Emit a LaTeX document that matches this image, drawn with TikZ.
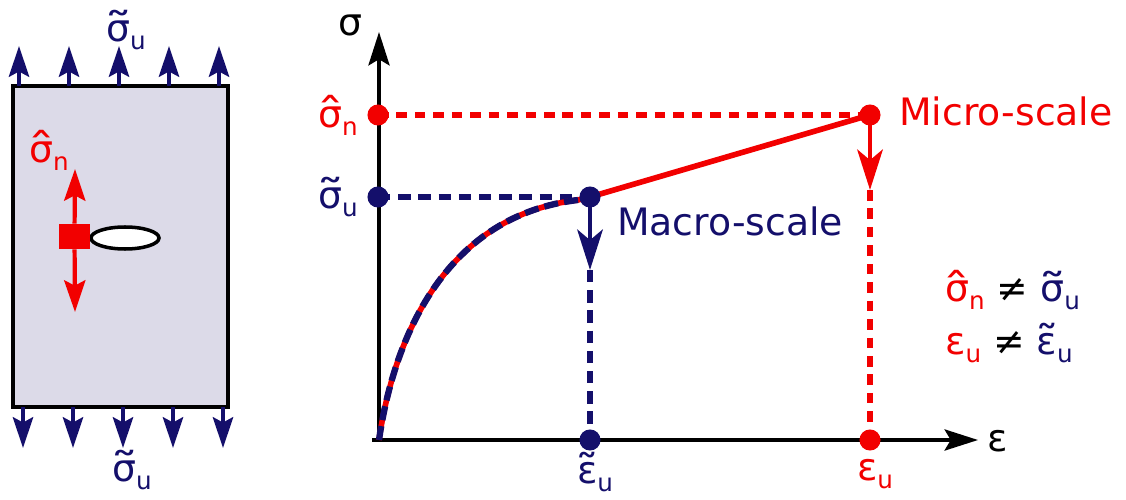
\documentclass[tikz,border=0pt]{standalone}
\usepackage{fontspec}
\usepackage{graphicx}
\setmainfont{DejaVu Sans}
\usetikzlibrary{arrows.meta,shapes.geometric}
\definecolor{navy} {HTML}{140F6B}
\definecolor{hot}  {HTML}{F20000}
\definecolor{lilac}{HTML}{DCDAE8}
\newcommand\lowix[1]{\raisebox{-4.5pt}{\fontsize{14}{14}\selectfont #1}}
\newcommand\accon[3][1.5]{\leavevmode\setbox0\hbox{#3}%
  \rlap{\hbox to\wd0{\hss\raisebox{-0.03em}{\scalebox{#1}[1.1]{#2}}\hss}}\box0}
\newcommand\tsig{\accon{˜}{σ}}
\newcommand\hsig{\accon{ˆ}{σ}}
\newcommand\teps{\accon[1.25]{˜}{ε}}
\tikzset{
  every node/.style={font=\fontsize{21.5}{24}\selectfont},
  % --- nodes
  dot/.style   = {circle, inner sep=0pt, minimum size=12pt},
  ndot/.style  = {dot, fill=navy},
  rdot/.style  = {dot, fill=hot},
  lbl/.style   = {inner sep=1pt},
  % --- edges
  axis/.style  = {-{Stealth[length=19pt,width=12pt,inset=3.5pt]}, line width=2.2pt, draw=black},
  load/.style  = {-{Stealth[length=17.5pt,width=11.5pt,inset=3pt]}, line width=2.4pt, draw=navy},
  rload/.style = {-{Stealth[length=18pt,width=12pt,inset=3pt]}, line width=2.4pt, draw=hot},
  drop/.style  = {-{Stealth[length=23pt,width=14.5pt,inset=6pt]}, line width=2.8pt, draw=navy},
  rdrop/.style = {drop, draw=hot},
  ndash/.style = {line width=3pt, draw=navy, dash pattern=on 7pt off 4.5pt},
  rdash/.style = {line width=3pt, draw=hot, dash pattern=on 6pt off 4.5pt},
}
\begin{document}
\begin{tikzpicture}[x=0.02cm,y=-0.02cm]
  \useasboundingbox (0,0) rectangle (1126,500);
  % specimen
  \node[draw=black, line width=2.8pt, fill=lilac, inner sep=0pt,
        minimum width=4.3cm, minimum height=6.42cm] (spec) at (120.5,246.5) {};
  \foreach \i in {0,...,4} {
    \draw[load] (19+50*\i,86) -- (19+50*\i,46);
    \draw[load] (23+50*\i,407) -- (23+50*\i,448);
  }
  \node[lbl, text=navy] (stop) at (126,30) {\tsig\lowix{u}};
  \node[lbl, text=navy] (sbot) at (132,470) {\tsig\lowix{u}};
  \node[ellipse, draw=black, line width=2pt, fill=white, inner sep=0pt,
        minimum width=1.36cm, minimum height=0.44cm] (crack) at (125,238) {};
  \node[fill=hot, inner sep=0pt, minimum width=0.62cm, minimum height=0.5cm] (elem) at (74.5,236.5) {};
  \coordinate (eup) at (75,169);
  \coordinate (edn) at (75,312);
  \draw[rload] (elem) -- (eup);
  \draw[rload] (elem) -- (edn);
  \node[lbl, text=hot] (snl) at (49,150) {\hsig\lowix{n}};

  % stress-strain graph
  \coordinate (O)    at (379,440);
  \coordinate (ytip) at (379,32);
  \coordinate (xtip) at (978,440);
  \coordinate (pn)   at (378,115);
  \coordinate (pu)   at (378,197);
  \coordinate (pmic) at (870,115);
  \coordinate (pmac) at (590,197);
  \coordinate (peu)  at (870,440);
  \coordinate (petu) at (590,440);
  \coordinate (pknee) at (578,200);
  \coordinate (micend) at (870,190);
  \coordinate (macend) at (590,270);
  \draw[axis] (372,440) -- (xtip);
  \draw[axis] (O) -- (ytip);
  \draw[rdash] (pn) -- (pmic);
  \draw[ndash] (pu) -- (pmac);
  \draw[rdrop] (pmic) -- (micend);
  \draw[rdash] (micend) -- (peu);
  \draw[drop] (pmac) -- (macend);
  \draw[ndash] (macend) -- (petu);
  \draw[hot, line width=3.2pt] (O) .. controls (395,330) and (450,215) .. (pknee) -- (pmac) -- (pmic);
  \draw[navy, line width=3.6pt, dash pattern=on 8pt off 3.5pt] (O) .. controls (395,330) and (450,215) .. (pknee);
  \foreach \p in {pn,pmic,peu} \node[rdot] at (\p) {};
  \foreach \p in {pu,pmac,petu} \node[ndot] at (\p) {};

  \node[lbl] (sig) at (350,25) {σ};
  \node[lbl] (eps) at (998,441) {ε};
  \node[lbl, text=hot]  (snax) at (338,115) {\hsig\lowix{n}};
  \node[lbl, text=navy] (suax) at (338,197) {\tsig\lowix{u}};
  \node[lbl, text=navy] (etax) at (595,472) {\teps\lowix{u}};
  \node[lbl, text=hot]  (euax) at (875,474) {ε\lowix{u}};
  \node[lbl, text=hot]  (micro) at (1006,111) {Micro-scale};
  \node[lbl, text=navy] (macro) at (730,221) {Macro-scale};
  \node[lbl, anchor=west] (neq1) at (943,290) {\color{hot}\hsig\lowix{n} \color{black}≠ \color{navy}\tsig\lowix{u}};
  \node[lbl, anchor=west] (neq2) at (943,343) {\color{hot}ε\lowix{u} \color{black}≠ \color{navy}\teps\lowix{u}};
\end{tikzpicture}
\end{document}
